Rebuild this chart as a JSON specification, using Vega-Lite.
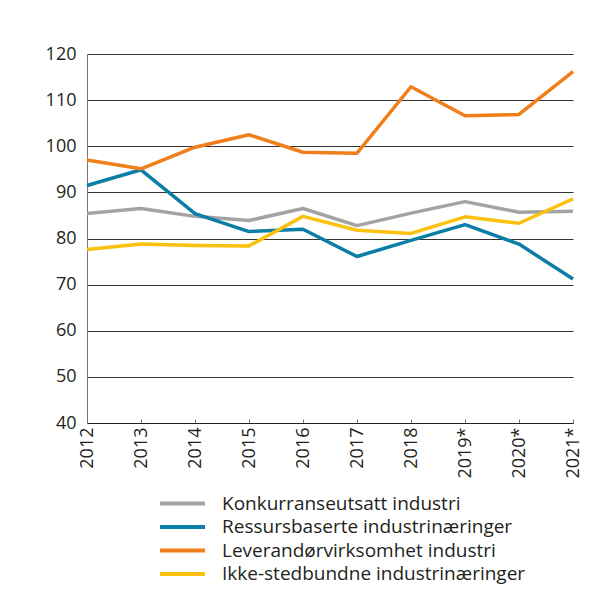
{
  "$schema": "https://vega.github.io/schema/vega-lite/v6.json",
  "width": 486,
  "height": 369,
  "autosize": {"type": "none"},
  "padding": {"left": 87, "top": 54, "right": 43, "bottom": 185},
  "background": "white",
  "config": {
    "view": {"stroke": null},
    "font": "Open Sans",
    "axis": {"labelFont": "Open Sans", "labelColor": "#231f20", "labelFontSize": 18},
    "legend": {"labelFont": "Open Sans", "labelColor": "#231f20", "labelFontSize": 19}
  },
  "data": {
    "values": [
      {"year": "2012", "series": "Konkurranseutsatt industri", "value": 85.4},
      {"year": "2013", "series": "Konkurranseutsatt industri", "value": 86.5},
      {"year": "2014", "series": "Konkurranseutsatt industri", "value": 84.8},
      {"year": "2015", "series": "Konkurranseutsatt industri", "value": 83.9},
      {"year": "2016", "series": "Konkurranseutsatt industri", "value": 86.5},
      {"year": "2017", "series": "Konkurranseutsatt industri", "value": 82.8},
      {"year": "2018", "series": "Konkurranseutsatt industri", "value": 85.5},
      {"year": "2019*", "series": "Konkurranseutsatt industri", "value": 88.0},
      {"year": "2020*", "series": "Konkurranseutsatt industri", "value": 85.7},
      {"year": "2021*", "series": "Konkurranseutsatt industri", "value": 85.9},
      {"year": "2012", "series": "Ressursbaserte industrinæringer", "value": 91.5},
      {"year": "2013", "series": "Ressursbaserte industrinæringer", "value": 94.9},
      {"year": "2014", "series": "Ressursbaserte industrinæringer", "value": 85.4},
      {"year": "2015", "series": "Ressursbaserte industrinæringer", "value": 81.5},
      {"year": "2016", "series": "Ressursbaserte industrinæringer", "value": 82.0},
      {"year": "2017", "series": "Ressursbaserte industrinæringer", "value": 76.1},
      {"year": "2018", "series": "Ressursbaserte industrinæringer", "value": 79.6},
      {"year": "2019*", "series": "Ressursbaserte industrinæringer", "value": 83.0},
      {"year": "2020*", "series": "Ressursbaserte industrinæringer", "value": 78.8},
      {"year": "2021*", "series": "Ressursbaserte industrinæringer", "value": 71.2},
      {"year": "2012", "series": "Leverandørvirksomhet industri", "value": 97.0},
      {"year": "2013", "series": "Leverandørvirksomhet industri", "value": 95.1},
      {"year": "2014", "series": "Leverandørvirksomhet industri", "value": 99.8},
      {"year": "2015", "series": "Leverandørvirksomhet industri", "value": 102.5},
      {"year": "2016", "series": "Leverandørvirksomhet industri", "value": 98.7},
      {"year": "2017", "series": "Leverandørvirksomhet industri", "value": 98.5},
      {"year": "2018", "series": "Leverandørvirksomhet industri", "value": 112.9},
      {"year": "2019*", "series": "Leverandørvirksomhet industri", "value": 106.6},
      {"year": "2020*", "series": "Leverandørvirksomhet industri", "value": 106.9},
      {"year": "2021*", "series": "Leverandørvirksomhet industri", "value": 116.2},
      {"year": "2012", "series": "Ikke-stedbundne industrinæringer", "value": 77.6},
      {"year": "2013", "series": "Ikke-stedbundne industrinæringer", "value": 78.8},
      {"year": "2014", "series": "Ikke-stedbundne industrinæringer", "value": 78.5},
      {"year": "2015", "series": "Ikke-stedbundne industrinæringer", "value": 78.4},
      {"year": "2016", "series": "Ikke-stedbundne industrinæringer", "value": 84.8},
      {"year": "2017", "series": "Ikke-stedbundne industrinæringer", "value": 81.8},
      {"year": "2018", "series": "Ikke-stedbundne industrinæringer", "value": 81.1},
      {"year": "2019*", "series": "Ikke-stedbundne industrinæringer", "value": 84.7},
      {"year": "2020*", "series": "Ikke-stedbundne industrinæringer", "value": 83.3},
      {"year": "2021*", "series": "Ikke-stedbundne industrinæringer", "value": 88.6}
    ]
  },
  "mark": {"type": "line", "strokeWidth": 3.5, "strokeJoin": "round", "strokeCap": "butt"},
  "encoding": {
    "x": {
      "field": "year",
      "type": "ordinal",
      "sort": ["2012", "2013", "2014", "2015", "2016", "2017", "2018", "2019*", "2020*", "2021*"],
      "scale": {"type": "point", "padding": 0},
      "axis": {
        "title": null,
        "labelAngle": -90,
        "labelAlign": "right",
        "labelBaseline": "middle",
        "labelPadding": 8,
        "domainColor": "#231f20",
        "domainWidth": 1.2,
        "tickColor": "#777777",
        "tickSize": -4,
        "tickWidth": 1,
        "grid": false
      }
    },
    "y": {
      "field": "value",
      "type": "quantitative",
      "scale": {"domain": [40, 120], "nice": false, "zero": false},
      "axis": {
        "title": null,
        "values": [40, 50, 60, 70, 80, 90, 100, 110, 120],
        "ticks": false,
        "labelPadding": 11,
        "domainColor": "#777777",
        "domainWidth": 1,
        "gridColor": "#333333",
        "gridWidth": 1,
        "gridOpacity": 1
      }
    },
    "color": {
      "field": "series",
      "type": "nominal",
      "scale": {
        "domain": ["Konkurranseutsatt industri", "Ressursbaserte industrinæringer", "Leverandørvirksomhet industri", "Ikke-stedbundne industrinæringer"],
        "range": ["#a3a3a3", "#0a7ea6", "#f07f1b", "#fcc10e"]
      },
      "legend": {
        "title": null,
        "orient": "none",
        "legendX": 86,
        "legendY": 440,
        "padding": 0,
        "symbolType": "M-3,0H3",
        "symbolSize": 225,
        "symbolStrokeWidth": 4,
        "labelOffset": 30,
        "rowPadding": 3.5,
        "labelLimit": 400
      }
    }
  }
}
